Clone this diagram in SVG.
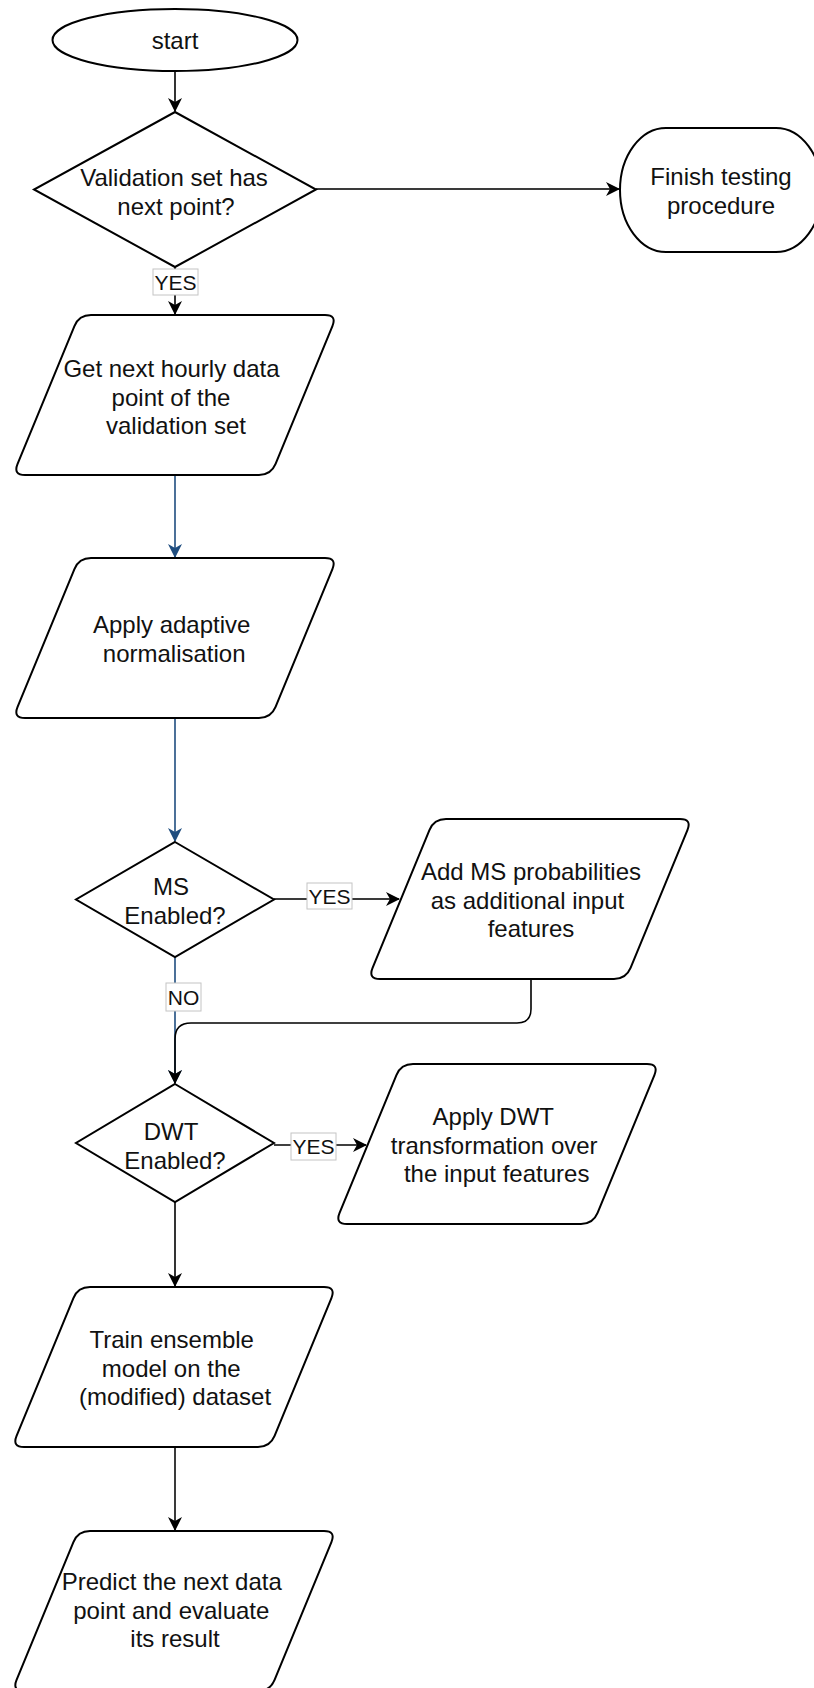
<svg xmlns="http://www.w3.org/2000/svg" xmlns:xlink="http://www.w3.org/1999/xlink" width="814" height="1688" viewBox="0 0 814 1688">
  <style>
    .shape { fill: #ffffff; stroke: #000000; stroke-width: 2; }
    .t { font-family: "Liberation Sans", Arial, Helvetica, sans-serif; font-size: 24px; fill: #111111; text-anchor: middle; }
    .lt { font-family: "Liberation Sans", Arial, Helvetica, sans-serif; font-size: 21px; fill: #111111; text-anchor: middle; }
    .lbl { fill: #ffffff; stroke: #c4c4c4; stroke-width: 1; }
    .edge { fill: none; stroke: #000000; stroke-width: 1.6; }
    .edge-gray { fill: none; stroke: #3a3a3a; stroke-width: 2; }
    .edge-blue { fill: none; stroke: #1f4d7f; stroke-width: 1.6; }
  </style>
  <defs>
    <marker id="arrow" viewBox="0 0 14 14" refX="13" refY="7" markerWidth="14" markerHeight="14" markerUnits="userSpaceOnUse" orient="auto">
      <path d="M0,0 L14,7 L0,14 L4,7 Z" fill="#000000"/>
    </marker>
    <marker id="arrow-blue" viewBox="0 0 14 14" refX="13" refY="7" markerWidth="14" markerHeight="14" markerUnits="userSpaceOnUse" orient="auto">
      <path d="M0,0 L14,7 L0,14 L4,7 Z" fill="#1f4d7f"/>
    </marker>
    <path id="para" d="M78,0 H312 Q324,0 319.42,11.09 L262.58,148.91 Q258,160 246,160 H12 Q0,160 4.58,148.91 L61.42,11.09 Q66,0 78,0 Z"/>
  </defs>

  <rect x="0" y="0" width="814" height="1688" fill="#ffffff"/>

  <g id="connectors">
    <path class="edge" d="M175,71 V111" marker-end="url(#arrow)"/>
    <path class="edge-gray" d="M316,189 H619" marker-end="url(#arrow)"/>
    <path class="edge" d="M175,267 V314" marker-end="url(#arrow)"/>
    <path class="edge-blue" d="M175,475 V557" marker-end="url(#arrow-blue)"/>
    <path class="edge-blue" d="M175,717 V841" marker-end="url(#arrow-blue)"/>
    <path class="edge-gray" d="M274,899 H399" marker-end="url(#arrow)"/>
    <path class="edge-blue" d="M175,957 V1083" marker-end="url(#arrow-blue)"/>
    <path class="edge" d="M531,980 V1009 Q531,1023 517,1023 H191 Q175,1023 175,1039 V1083" marker-end="url(#arrow)"/>
    <path class="edge" d="M274,1145 H366" marker-end="url(#arrow)"/>
    <path class="edge" d="M175,1202 V1286" marker-end="url(#arrow)"/>
    <path class="edge-gray" d="M175,1448 V1530" marker-end="url(#arrow)"/>

    <g id="label-yes-1">
      <rect class="lbl" x="153" y="269" width="45" height="26"/>
      <text class="lt" x="175.5" y="289.5">YES</text>
    </g>
    <g id="label-yes-ms">
      <rect class="lbl" x="307" y="883" width="45" height="26"/>
      <text class="lt" x="329.5" y="903.5">YES</text>
    </g>
    <g id="label-no-ms">
      <rect class="lbl" x="166" y="983" width="35" height="28"/>
      <text class="lt" x="183.5" y="1004.5">NO</text>
    </g>
    <g id="label-yes-dwt">
      <rect class="lbl" x="291" y="1133" width="45" height="27"/>
      <text class="lt" x="313.5" y="1154">YES</text>
    </g>
  </g>

  <g id="start">
    <ellipse class="shape" cx="175" cy="40" rx="122.5" ry="31"/>
    <text class="t" x="175" y="49">start</text>
  </g>

  <g id="has-next">
    <path class="shape" d="M175,112 L316,189.5 L175,267 L34,189.5 Z"/>
    <text class="t" x="174" y="186">Validation set has</text>
    <text class="t" x="176" y="214.5">next point?</text>
  </g>

  <g id="finish">
    <rect class="shape" x="620" y="128" width="202" height="124" rx="46" ry="62"/>
    <text class="t" x="721" y="185">Finish testing</text>
    <text class="t" x="721" y="213.5">procedure</text>
  </g>

  <g id="get-next">
    <use href="#para" xlink:href="#para" class="shape" transform="translate(13,315)"/>
    <text class="t" x="171.5" y="377">Get next hourly data</text>
    <text class="t" x="171" y="405.5">point of the</text>
    <text class="t" x="176" y="434">validation set</text>
  </g>

  <g id="normalise">
    <use href="#para" xlink:href="#para" class="shape" transform="translate(13,558)"/>
    <text class="t" x="171.7" y="633">Apply adaptive</text>
    <text class="t" x="174.2" y="661.5">normalisation</text>
  </g>

  <g id="ms-enabled">
    <path class="shape" d="M175,842 L274,899.5 L175,957 L76,899.5 Z"/>
    <text class="t" x="171" y="895">MS</text>
    <text class="t" x="175" y="924">Enabled?</text>
  </g>

  <g id="add-ms">
    <use href="#para" xlink:href="#para" class="shape" transform="translate(368,819)"/>
    <text class="t" x="531" y="880">Add MS probabilities</text>
    <text class="t" x="527.5" y="908.5">as additional input</text>
    <text class="t" x="531" y="937">features</text>
  </g>

  <g id="dwt-enabled">
    <path class="shape" d="M175,1084 L274,1143 L175,1202 L76,1143 Z"/>
    <text class="t" x="171" y="1140">DWT</text>
    <text class="t" x="175" y="1168.5">Enabled?</text>
  </g>

  <g id="apply-dwt">
    <use href="#para" xlink:href="#para" class="shape" transform="translate(335,1064)"/>
    <text class="t" x="493.3" y="1125">Apply DWT</text>
    <text class="t" x="494.2" y="1153.5">transformation over</text>
    <text class="t" x="496.7" y="1182">the input features</text>
  </g>

  <g id="train">
    <use href="#para" xlink:href="#para" class="shape" transform="translate(12,1287)"/>
    <text class="t" x="171.7" y="1348">Train ensemble</text>
    <text class="t" x="171.2" y="1376.5">model on the</text>
    <text class="t" x="175" y="1405">(modified) dataset</text>
  </g>

  <g id="predict">
    <use href="#para" xlink:href="#para" class="shape" transform="translate(12,1531)"/>
    <text class="t" x="171.7" y="1590">Predict the next data</text>
    <text class="t" x="171.3" y="1618.5">point and evaluate</text>
    <text class="t" x="175" y="1647">its result</text>
  </g>
</svg>
